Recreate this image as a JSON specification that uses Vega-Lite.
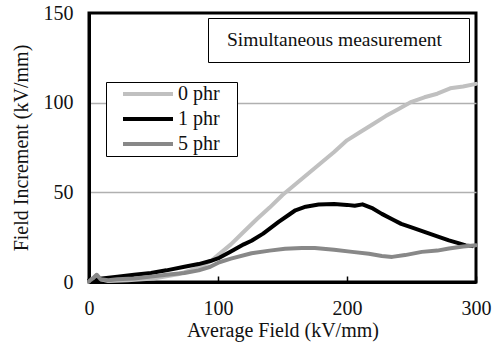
{
  "$schema": "https://vega.github.io/schema/vega-lite/v6.json",
  "width": 387,
  "height": 269,
  "autosize": {"type": "none"},
  "padding": {"left": 89, "top": 13, "right": 16, "bottom": 62},
  "background": "white",
  "config": {
    "font": "Times New Roman, Liberation Serif, DejaVu Serif, serif",
    "view": {"stroke": "black", "strokeWidth": 3},
    "axis": {
      "labelFont": "Times New Roman, Liberation Serif, DejaVu Serif, serif",
      "titleFont": "Times New Roman, Liberation Serif, DejaVu Serif, serif",
      "labelFontSize": 20,
      "titleFontSize": 20,
      "titleFontWeight": "normal",
      "labelColor": "#111",
      "titleColor": "#111",
      "domainColor": "black",
      "domainWidth": 3,
      "tickColor": "black"
    },
    "legend": {
      "labelFont": "Times New Roman, Liberation Serif, DejaVu Serif, serif",
      "titleFont": "Times New Roman, Liberation Serif, DejaVu Serif, serif"
    }
  },
  "layer": [
    {
      "data": {
        "values": [
          {"series": "0 phr", "x": 0, "y": 0.5}, {"series": "0 phr", "x": 3, "y": 2}, {"series": "0 phr", "x": 6, "y": 4}, {"series": "0 phr", "x": 9, "y": 1.5}, {"series": "0 phr", "x": 15, "y": 0.5}, {"series": "0 phr", "x": 30, "y": 1}, {"series": "0 phr", "x": 50, "y": 2}, {"series": "0 phr", "x": 70, "y": 4.5}, {"series": "0 phr", "x": 85, "y": 8}, {"series": "0 phr", "x": 95, "y": 12}, {"series": "0 phr", "x": 100, "y": 15}, {"series": "0 phr", "x": 110, "y": 21}, {"series": "0 phr", "x": 120, "y": 28}, {"series": "0 phr", "x": 130, "y": 35}, {"series": "0 phr", "x": 140, "y": 41.5}, {"series": "0 phr", "x": 150, "y": 48.5}, {"series": "0 phr", "x": 160, "y": 54.5}, {"series": "0 phr", "x": 170, "y": 60.5}, {"series": "0 phr", "x": 180, "y": 66.5}, {"series": "0 phr", "x": 190, "y": 72.5}, {"series": "0 phr", "x": 200, "y": 79}, {"series": "0 phr", "x": 210, "y": 83.5}, {"series": "0 phr", "x": 220, "y": 88}, {"series": "0 phr", "x": 230, "y": 92.5}, {"series": "0 phr", "x": 240, "y": 96.5}, {"series": "0 phr", "x": 250, "y": 100.5}, {"series": "0 phr", "x": 260, "y": 103}, {"series": "0 phr", "x": 270, "y": 105}, {"series": "0 phr", "x": 280, "y": 108}, {"series": "0 phr", "x": 290, "y": 109}, {"series": "0 phr", "x": 300, "y": 110.5},
          {"series": "1 phr", "x": 0, "y": 1}, {"series": "1 phr", "x": 5, "y": 1.5}, {"series": "1 phr", "x": 10, "y": 2}, {"series": "1 phr", "x": 22, "y": 3}, {"series": "1 phr", "x": 35, "y": 4}, {"series": "1 phr", "x": 48, "y": 5}, {"series": "1 phr", "x": 60, "y": 6.5}, {"series": "1 phr", "x": 74, "y": 8.5}, {"series": "1 phr", "x": 85, "y": 10}, {"series": "1 phr", "x": 94, "y": 11.7}, {"series": "1 phr", "x": 101, "y": 13.5}, {"series": "1 phr", "x": 110, "y": 17}, {"series": "1 phr", "x": 120, "y": 21}, {"series": "1 phr", "x": 126, "y": 23}, {"series": "1 phr", "x": 135, "y": 27}, {"series": "1 phr", "x": 147, "y": 33.5}, {"series": "1 phr", "x": 155, "y": 37.5}, {"series": "1 phr", "x": 160, "y": 40}, {"series": "1 phr", "x": 168, "y": 42}, {"series": "1 phr", "x": 178, "y": 43.2}, {"series": "1 phr", "x": 190, "y": 43.5}, {"series": "1 phr", "x": 200, "y": 43}, {"series": "1 phr", "x": 206, "y": 42.5}, {"series": "1 phr", "x": 212, "y": 43.3}, {"series": "1 phr", "x": 220, "y": 41}, {"series": "1 phr", "x": 227, "y": 38}, {"series": "1 phr", "x": 235, "y": 35}, {"series": "1 phr", "x": 242, "y": 32.4}, {"series": "1 phr", "x": 250, "y": 30.5}, {"series": "1 phr", "x": 260, "y": 28}, {"series": "1 phr", "x": 270, "y": 25.5}, {"series": "1 phr", "x": 279, "y": 23.2}, {"series": "1 phr", "x": 287, "y": 21.5}, {"series": "1 phr", "x": 292, "y": 20.4}, {"series": "1 phr", "x": 297, "y": 20},
          {"series": "5 phr", "x": 0, "y": 0.5}, {"series": "5 phr", "x": 3, "y": 2}, {"series": "5 phr", "x": 6, "y": 4}, {"series": "5 phr", "x": 9, "y": 1.5}, {"series": "5 phr", "x": 15, "y": 1}, {"series": "5 phr", "x": 22, "y": 1.5}, {"series": "5 phr", "x": 35, "y": 2}, {"series": "5 phr", "x": 48, "y": 3}, {"series": "5 phr", "x": 60, "y": 4}, {"series": "5 phr", "x": 74, "y": 5}, {"series": "5 phr", "x": 85, "y": 6.5}, {"series": "5 phr", "x": 94, "y": 8.5}, {"series": "5 phr", "x": 101, "y": 11}, {"series": "5 phr", "x": 110, "y": 13}, {"series": "5 phr", "x": 126, "y": 16}, {"series": "5 phr", "x": 140, "y": 17.5}, {"series": "5 phr", "x": 152, "y": 18.5}, {"series": "5 phr", "x": 165, "y": 19}, {"series": "5 phr", "x": 175, "y": 19}, {"series": "5 phr", "x": 190, "y": 18}, {"series": "5 phr", "x": 204, "y": 16.8}, {"series": "5 phr", "x": 217, "y": 15.7}, {"series": "5 phr", "x": 227, "y": 14.5}, {"series": "5 phr", "x": 235, "y": 14}, {"series": "5 phr", "x": 245, "y": 15}, {"series": "5 phr", "x": 258, "y": 16.8}, {"series": "5 phr", "x": 270, "y": 17.5}, {"series": "5 phr", "x": 279, "y": 18.7}, {"series": "5 phr", "x": 290, "y": 19.8}, {"series": "5 phr", "x": 300, "y": 20.5}
        ]
      },
      "mark": {"type": "line", "strokeWidth": 4, "strokeJoin": "round", "strokeCap": "round"},
      "encoding": {
        "x": {
          "field": "x", "type": "quantitative",
          "scale": {"domain": [0, 300], "nice": false, "zero": false},
          "axis": {"values": [0, 100, 200, 300], "title": "Average Field (kV/mm)", "grid": false, "tickSize": -6, "tickWidth": 1.5, "labelPadding": 22, "titlePadding": 2, "labelFlush": false}
        },
        "y": {
          "field": "y", "type": "quantitative",
          "scale": {"domain": [0, 150], "nice": false},
          "axis": {"values": [0, 50, 100, 150], "title": "Field Increment (kV/mm)", "ticks": false, "labelPadding": 16, "titlePadding": 12,
            "grid": true, "gridWidth": 1.5,
            "gridColor": {"expr": "datum.value === 0 || datum.value === 150 ? 'transparent' : '#b0b0b0'"}}
        },
        "stroke": {
          "field": "series", "type": "nominal",
          "scale": {"domain": ["0 phr", "1 phr", "5 phr"], "range": ["#c0c0c0", "#000000", "#888888"]},
          "legend": {
            "title": " ", "titleOrient": "right", "titlePadding": 15, "titleFontSize": 10,
            "orient": "none", "legendX": 17, "legendY": 69,
            "strokeColor": "black", "fillColor": "white", "padding": 2,
            "symbolType": "stroke", "symbolSize": 2500, "symbolStrokeWidth": 4, "clipHeight": 20,
            "symbolOffset": 13,
            "labelFontSize": 20, "labelColor": "#111", "labelOffset": 3, "rowPadding": 5
          }
        }
      }
    },
    {
      "data": {"values": [{"note": "Simultaneous measurement"}]},
      "mark": {"type": "point", "opacity": 0},
      "encoding": {
        "fill": {
          "field": "note", "type": "nominal",
          "scale": {"range": ["white"]},
          "legend": {
            "title": " ", "titleOrient": "right", "titlePadding": 15, "titleFontSize": 10,
            "orient": "none", "legendX": 119, "legendY": 5,
            "strokeColor": "black", "fillColor": "white", "padding": 12,
            "symbolSize": 100, "symbolOpacity": 0, "symbolStrokeWidth": 0,
            "labelFontSize": 19.5, "labelColor": "#111", "labelOffset": -12.5, "labelLimit": 400
          }
        }
      }
    }
  ]
}
